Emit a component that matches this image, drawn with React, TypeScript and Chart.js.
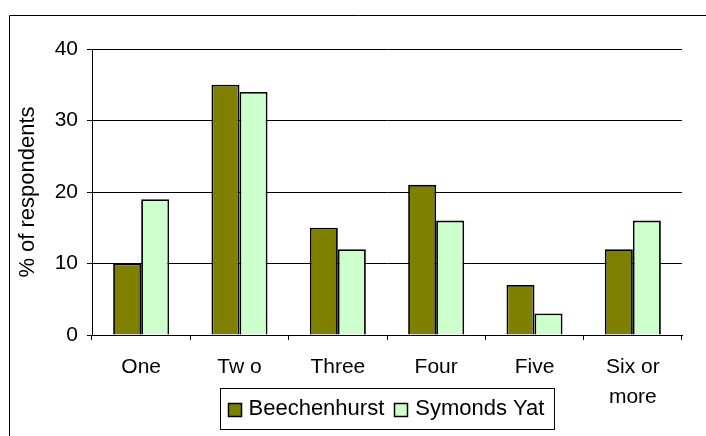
import React, { useEffect, useRef } from "react";
import { Chart, registerables } from "chart.js";

Chart.register(...registerables);

const categories: (string | string[])[] = ["One", "Tw o", "Three", "Four", "Five", ["Six or", "more"]];
const seriesNames = ["Beechenhurst", "Symonds Yat"];
const beechenhurst = [10, 35, 15, 21, 7, 12];
const symondsYat = [19, 34, 12, 16, 3, 16];
const yMin = 0;
const yMax = 40;
const yStep = 10;
const yTitle = "% of respondents";

const FAMILY = '"Liberation Sans", Arial, sans-serif';
const DARK = "#808000";
const LIGHT = "#CCFFCC";

const framePlugin = {
  id: "frame",
  beforeDraw(chart: any) {
    const ctx = chart.ctx;
    ctx.save();
    ctx.fillStyle = "#fff";
    ctx.fillRect(0, 0, chart.width, chart.height);
    ctx.strokeStyle = "#000";
    ctx.lineWidth = 1;
    ctx.beginPath();
    ctx.moveTo(9.5, chart.height + 2);
    ctx.lineTo(9.5, 15.5);
    ctx.lineTo(chart.width + 2, 15.5);
    ctx.stroke();
    ctx.restore();
  },
};

const boxLegendPlugin = {
  id: "boxLegend",
  afterDraw(chart: any) {
    const ctx = chart.ctx;
    const area = chart.chartArea;
    ctx.save();
    ctx.font = `22px ${FAMILY}`;
    const sq = 13;
    const gap = 8;
    const spacing = 10;
    const items = chart.data.datasets.map((ds: any) => ({
      label: ds.label as string,
      fill: ds.backgroundColor as string,
      w: ctx.measureText(ds.label).width,
    }));
    let contentW = 0;
    items.forEach((it: any, i: number) => {
      contentW += sq + gap + it.w + (i > 0 ? spacing : 0);
    });
    const padL = 7;
    const padR = 10;
    const totalW = contentW + padL + padR;
    const cx = (area.left + area.right) / 2;
    const bx = Math.round(cx - totalW / 2) + 0.5;
    const by = Math.round(area.bottom + 53) + 0.5;
    const bh = 41;
    ctx.strokeStyle = "#000";
    ctx.lineWidth = 1;
    ctx.strokeRect(bx, by, totalW, bh);
    const midY = by + bh / 2;
    let x = bx + padL;
    ctx.textBaseline = "middle";
    ctx.textAlign = "left";
    items.forEach((it: any) => {
      const sx = Math.round(x) + 0.5;
      const sy = Math.round(midY - sq / 2) + 0.5;
      ctx.fillStyle = it.fill;
      ctx.fillRect(sx, sy, sq, sq);
      ctx.strokeStyle = "#000";
      ctx.lineWidth = 1.5;
      ctx.strokeRect(sx, sy, sq, sq);
      x += sq + gap;
      ctx.fillStyle = "#000";
      ctx.fillText(it.label, x, midY);
      x += it.w + spacing;
    });
    ctx.restore();
  },
};

export default function App() {
  const canvasRef = useRef<HTMLCanvasElement | null>(null);

  useEffect(() => {
    if (!canvasRef.current) return;
    const chart = new Chart(canvasRef.current, {
      type: "bar",
      data: {
        labels: categories as any,
        datasets: [
          {
            label: seriesNames[0],
            data: beechenhurst,
            backgroundColor: DARK,
            borderColor: "#000",
            borderWidth: 1.8,
          },
          {
            label: seriesNames[1],
            data: symondsYat,
            backgroundColor: LIGHT,
            borderColor: "#000",
            borderWidth: 1.8,
          },
        ],
      },
      options: {
        responsive: false,
        animation: false,
        devicePixelRatio: 1,
        layout: { padding: { top: 49, left: 0, right: 24, bottom: 0 } },
        datasets: {
          bar: { categoryPercentage: 0.57, barPercentage: 1 },
        } as any,
        plugins: {
          legend: { display: false },
          tooltip: { enabled: false },
          title: { display: false },
        },
        scales: {
          x: {
            grid: {
              display: true,
              drawOnChartArea: false,
              drawTicks: true,
              tickLength: 5,
              color: "#000",
              offset: true,
            },
            border: { color: "#000", width: 1 },
            ticks: {
              color: "#000",
              font: { size: 21, family: FAMILY, lineHeight: 1.43 },
              padding: 12,
              maxRotation: 0,
              autoSkip: false,
            },
            afterFit: (s: any) => {
              s.height = 101;
            },
          },
          y: {
            min: yMin,
            max: yMax,
            grid: { color: "#000", lineWidth: 1, tickLength: 5, drawTicks: true },
            border: { color: "#000", width: 1 },
            ticks: {
              stepSize: yStep,
              color: "#000",
              font: { size: 21, family: FAMILY },
              padding: 9,
            },
            title: {
              display: true,
              text: yTitle,
              color: "#000",
              font: { size: 22, family: FAMILY },
              padding: { top: 15, bottom: 0 },
            },
            afterFit: (s: any) => {
              s.width = 92;
            },
          },
        },
      },
      plugins: [framePlugin, boxLegendPlugin],
    });
    return () => chart.destroy();
  }, []);

  return (
    <div
      style={{
        position: "fixed",
        left: 0,
        top: 0,
        width: 706,
        height: 436,
        overflow: "hidden",
        background: "#fff",
      }}
    >
      <canvas ref={canvasRef} width={706} height={436} style={{ display: "block" }} />
    </div>
  );
}
